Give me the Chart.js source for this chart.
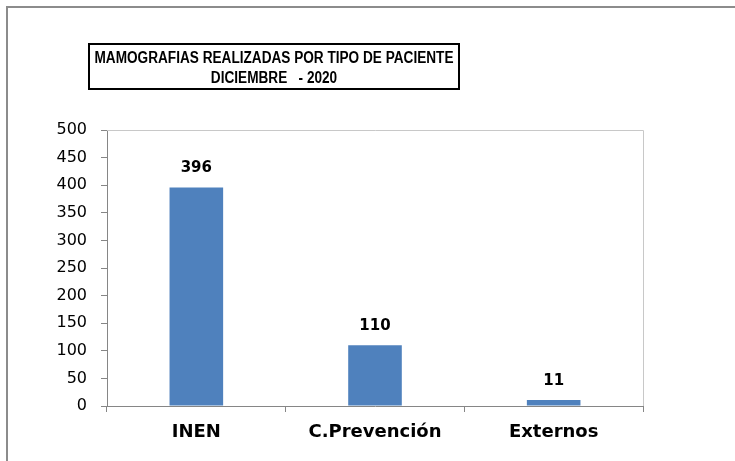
<!DOCTYPE html>
<html lang="es">
<head>
  <meta charset="UTF-8" />
  <title>Mamografias por tipo de paciente</title>
  <script src="https://cdn.jsdelivr.net/npm/chart.js"></script>
  <style>
    html, body { margin: 0; padding: 0; background: #ffffff; }
    #wrap { width: 735px; height: 461px; }
  </style>
</head>
<body>
<div id="wrap"><canvas id="myChart" width="735" height="461"></canvas></div>

<script>
  // chart data
  const categories = ['INEN', 'C.Prevención', 'Externos'];
  const mamografias = [396, 110, 11];
  const titleLines = ['MAMOGRAFIAS REALIZADAS POR TIPO DE PACIENTE', 'DICIEMBRE   - 2020'];

  // outer frame (only top/left show, the picture is cropped), plot border and boxed title
  const framePlugin = {
    id: 'frame',
    afterDraw(chart) {
      const c = chart.ctx;
      const a = chart.chartArea;
      c.save();
      c.strokeStyle = '#c8c8c8';
      c.lineWidth = 1;
      c.beginPath();
      c.moveTo(a.left, a.top + 0.5);
      c.lineTo(a.right + 0.5, a.top + 0.5);
      c.lineTo(a.right + 0.5, a.bottom);
      c.stroke();

      c.strokeStyle = '#8c8c8c';
      c.lineWidth = 2;
      c.beginPath();
      c.moveTo(7, 461);
      c.lineTo(7, 7);
      c.lineTo(735, 7);
      c.stroke();

      c.strokeStyle = '#000000';
      c.lineWidth = 2;
      c.strokeRect(89, 44, 370, 45);

      // title text is a narrow bold face, squeeze it to fit the box
      c.fillStyle = '#000000';
      c.font = 'bold 16px "Liberation Sans", Arial, sans-serif';
      c.textAlign = 'center';
      c.textBaseline = 'middle';
      const sx = 359 / c.measureText(titleLines[0]).width;
      c.translate(274, 0);
      c.scale(sx, 1);
      c.fillText(titleLines[0], 0, 59);
      c.fillText(titleLines[1], 0, 79);
      c.restore();
    }
  };

  // value above each bar
  const valueLabels = {
    id: 'valueLabels',
    afterDatasetsDraw(chart) {
      const c = chart.ctx;
      const meta = chart.getDatasetMeta(0);
      c.save();
      c.fillStyle = '#000000';
      c.font = 'bold 15px "DejaVu Sans", Verdana, sans-serif';
      c.textAlign = 'center';
      c.textBaseline = 'middle';
      meta.data.forEach((bar, i) => {
        c.fillText(String(chart.data.datasets[0].data[i]), bar.x, bar.y - 19);
      });
      c.restore();
    }
  };

  const ctx = document.getElementById('myChart').getContext('2d');
  new Chart(ctx, {
    type: 'bar',
    data: {
      labels: categories,
      datasets: [{
        label: 'Mamografías',
        data: mamografias,
        backgroundColor: '#4f81bd',
        borderWidth: 0,
        categoryPercentage: 1,
        barPercentage: 0.3
      }]
    },
    options: {
      responsive: false,
      animation: false,
      layout: { padding: { left: 0, top: 130, right: 92, bottom: 10 } },
      plugins: {
        legend: { display: false },
        title: { display: false },
        tooltip: { enabled: false }
      },
      scales: {
        x: {
          grid: {
            offset: true,
            drawOnChartArea: false,
            tickLength: 6,
            color: '#868686'
          },
          border: { color: '#868686', width: 1 },
          ticks: {
            color: '#000000',
            padding: 10,
            font: { family: '"DejaVu Sans", Verdana, sans-serif', size: 18, weight: 'bold' }
          },
          afterFit(scale) { scale.height = 45; }
        },
        y: {
          min: 0,
          max: 500,
          ticks: {
            stepSize: 50,
            color: '#000000',
            padding: 14,
            font: { family: '"DejaVu Sans", Verdana, sans-serif', size: 16 }
          },
          grid: {
            drawOnChartArea: false,
            tickLength: 6,
            color: '#868686'
          },
          border: { color: '#868686', width: 1 },
          afterFit(scale) { scale.width = 107; }
        }
      }
    },
    plugins: [framePlugin, valueLabels]
  });
</script>
</body>
</html>
